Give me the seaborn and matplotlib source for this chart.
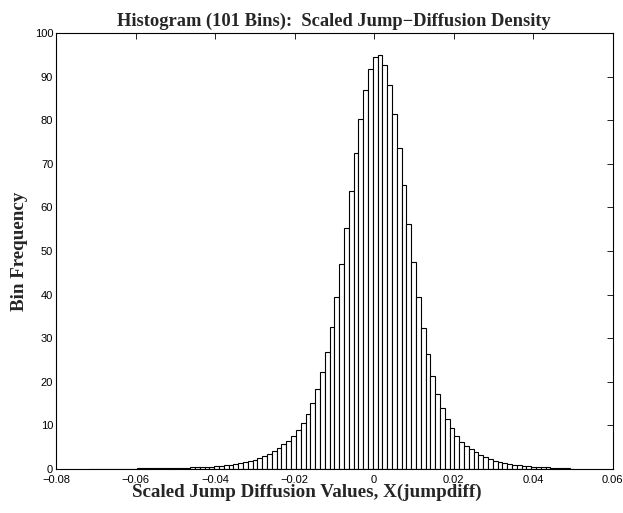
import numpy as np
import pandas as pd
import matplotlib
matplotlib.use("Agg")
import matplotlib.pyplot as plt
import seaborn as sns

# histogram data (101 bins)
bin_lo = -0.0716
bin_hi = 0.0504
counts = [
    # far left tail
    0.1, 0.05, 0.05, 0.05, 0.1, 0.05, 0.1, 0.1, 0.1, 0.1, 0.15, 0.15,
    0.15, 0.2, 0.2, 0.2, 0.25, 0.25, 0.25, 0.3, 0.3, 0.35, 0.35,
    # left shoulder
    0.4, 0.46, 0.53, 0.6, 0.77, 0.85, 1.0, 1.15, 1.4, 1.6, 1.8, 2.1,
    2.6, 3.0, 3.4, 4.1, 4.7, 5.7, 6.4, 7.6, 8.9,
    10.6, 12.7, 15.1, 18.3, 22.2, 26.9, 32.6, 39.4, 47.0,
    55.2, 63.8, 72.4, 80.3, 87.0, 91.8, 94.5,
    # peak
    94.9,
    # right side
    92.6, 88.0, 81.5, 73.7, 65.1, 56.1, 47.4, 39.4, 32.4, 26.3, 21.3,
    17.2, 13.9, 11.4,
    9.3, 7.6, 6.3, 5.3, 4.6, 3.8, 3.2, 2.7, 2.3, 1.9, 1.6, 1.4, 1.15,
    1.0, 0.85, 0.7, 0.6, 0.5, 0.45, 0.4, 0.35, 0.3, 0.25, 0.2, 0.15, 0.1,
]
x_ticks = [-0.08, -0.06, -0.04, -0.02, 0, 0.02, 0.04, 0.06]
x_labels = ["\u22120.08", "\u22120.06", "\u22120.04", "\u22120.02",
            "0", "0.02", "0.04", "0.06"]
y_ticks = list(range(0, 101, 10))

edges = np.linspace(bin_lo, bin_hi, len(counts) + 1)
df = pd.DataFrame({"x": (edges[:-1] + edges[1:]) / 2, "freq": counts})

sns.set_style("white")
plt.rcParams["font.family"] = ["Liberation Sans", "DejaVu Sans"]

fig = plt.figure(figsize=(6.23, 5.13), dpi=100)
ax = fig.add_axes([0.0899, 0.0858, 0.8934, 0.8499])

sns.histplot(data=df, x="x", weights="freq", bins=len(counts),
             binrange=(bin_lo, bin_hi), ax=ax,
             color="white", edgecolor="black", linewidth=0.8, alpha=1)

ax.set_xlim(-0.08, 0.06)
ax.set_ylim(0, 100)
ax.set_xticks(x_ticks)
ax.set_xticklabels(x_labels)
ax.set_yticks(y_ticks)
ax.tick_params(direction="in", top=True, right=True, length=4, width=0.6,
               labelsize=8, colors="black")
ax.tick_params(axis="x", pad=4)
ax.tick_params(axis="y", pad=2)
for sp in ax.spines.values():
    sp.set_visible(True)
    sp.set_color("black")
    sp.set_linewidth(0.8)

serif = ["Liberation Serif", "DejaVu Serif"]
ax.set_title("Histogram (101 Bins):  Scaled Jump\u2212Diffusion Density",
             family=serif, fontweight="bold", fontsize=13.3, pad=5)
ax.set_xlabel("Scaled Jump Diffusion Values, X(jumpdiff)",
              family=serif, fontweight="bold", fontsize=13.7)
ax.xaxis.set_label_coords(0.45, -0.033, transform=ax.transAxes)
ax.xaxis.label.set_va("top")
ax.set_ylabel("Bin Frequency", family=serif, fontweight="bold",
              fontsize=13.7, labelpad=5)

fig.savefig("out.png", dpi=100)
